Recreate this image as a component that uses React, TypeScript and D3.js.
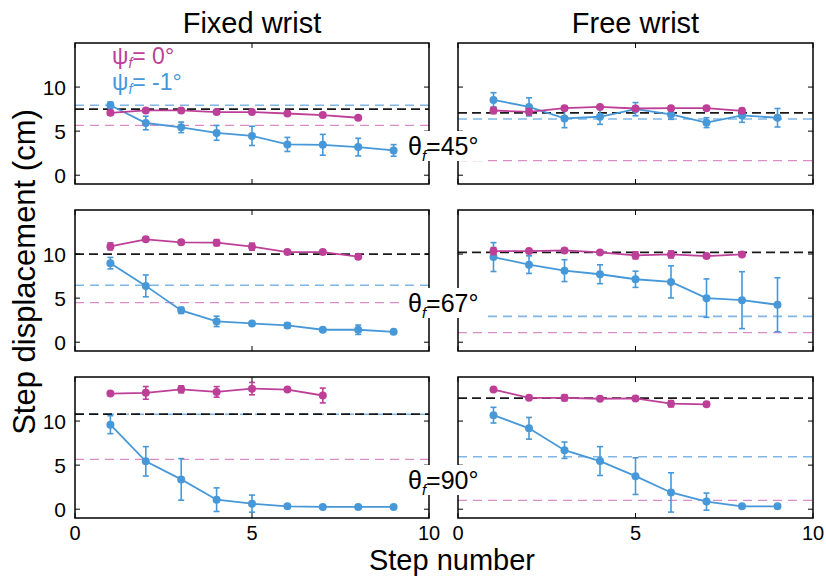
import React from "react";
import * as d3 from "d3";

const stepNumbers = [1, 2, 3, 4, 5, 6, 7, 8, 9];
const xTicks = [0, 5, 10];
const yTicks = [0, 5, 10];
const wristTitles = ["Fixed wrist", "Free wrist"];
const thetaLabels = ["45°", "67°", "90°"];
const legendLabels = ["= 0°", "= -1°"];

// Fixed wrist, theta 45
const fixed45Psi0 = [7.08, 7.35, 7.35, 7.16, 7.16, 7.0, 6.82, 6.52];
const fixed45Psi0Err = [0.25, 0.2, 0.2, 0.2, 0.2, 0.2, 0.2, 0.2];
const fixed45PsiM1 = [7.94, 5.92, 5.43, 4.8, 4.46, 3.49, 3.45, 3.19, 2.81];
const fixed45PsiM1Err = [0.37, 0.77, 0.6, 0.84, 1.09, 0.8, 1.18, 1.0, 0.66];
const fixed45Refs = [7.5, 7.94, 5.66]; // black, blue, magenta

// Free wrist, theta 45
const free45Psi0 = [7.34, 7.19, 7.6, 7.75, 7.57, 7.6, 7.6, 7.3];
const free45Psi0Err = [0.35, 0.35, 0.2, 0.2, 0.2, 0.2, 0.2, 0.2];
const free45PsiM1 = [8.54, 7.75, 6.44, 6.63, 7.49, 6.89, 5.96, 6.78, 6.52];
const free45PsiM1Err = [0.82, 1.03, 1.05, 0.86, 0.75, 0.55, 0.56, 0.78, 1.05];
const free45Refs = [7.08, 6.37, 1.65];

// Fixed wrist, theta 67
const fixed67Psi0 = [10.87, 11.67, 11.33, 11.29, 10.84, 10.23, 10.23, 9.7];
const fixed67Psi0Err = [0.4, 0.2, 0.2, 0.35, 0.4, 0.2, 0.2, 0.2];
const fixed67PsiM1 = [8.97, 6.39, 3.61, 2.36, 2.13, 1.9, 1.41, 1.41, 1.18];
const fixed67PsiM1Err = [0.65, 1.24, 0.35, 0.59, 0.2, 0.3, 0.15, 0.53, 0.1];
const fixed67Refs = [10.0, 6.46, 4.49];

// Free wrist, theta 67
const free67Psi0 = [10.34, 10.34, 10.41, 10.19, 9.85, 9.96, 9.77, 9.96];
const free67Psi0Err = [0.4, 0.2, 0.2, 0.2, 0.4, 0.4, 0.2, 0.2];
const free67PsiM1 = [9.66, 8.8, 8.12, 7.71, 7.14, 6.84, 5.0, 4.77, 4.25];
const free67PsiM1Err = [1.64, 1.0, 1.24, 1.07, 0.92, 1.82, 2.18, 3.23, 3.06];
const free67Refs = [10.19, 2.93, 1.09];

// Fixed wrist, theta 90
const fixed90Psi0 = [13.12, 13.2, 13.6, 13.31, 13.68, 13.57, 12.9];
const fixed90Psi0Err = [0.15, 0.72, 0.4, 0.6, 0.7, 0.15, 0.84];
const fixed90PsiM1 = [9.59, 5.43, 3.38, 1.08, 0.63, 0.33, 0.26, 0.26, 0.26];
const fixed90PsiM1Err = [1.02, 1.67, 2.36, 1.34, 0.97, 0.1, 0.05, 0.05, 0.05];
const fixed90Refs = [10.78, 10.78, 5.65];

// Free wrist, theta 90
const free90Psi0 = [13.57, 12.64, 12.64, 12.53, 12.57, 11.97, 11.9];
const free90Psi0Err = [0.1, 0.2, 0.35, 0.2, 0.2, 0.35, 0.2];
const free90PsiM1 = [10.67, 9.18, 6.69, 5.46, 3.75, 1.9, 0.86, 0.33, 0.33];
const free90PsiM1Err = [0.89, 1.23, 0.93, 1.64, 2.08, 2.23, 0.97, 0.2, 0.1];
const free90Refs = [12.6, 5.95, 1.0];

const MAGENTA = "#BD3F98";
const BLUE = "#4798D8";
const MAGENTA_LIGHT = "#D98CC5";
const BLUE_LIGHT = "#7FB6E6";
const FONT = "'Liberation Sans', Arial, Helvetica, sans-serif";

const panels = [
  [
    { p0: fixed45Psi0, e0: fixed45Psi0Err, p1: fixed45PsiM1, e1: fixed45PsiM1Err, refs: fixed45Refs },
    { p0: free45Psi0, e0: free45Psi0Err, p1: free45PsiM1, e1: free45PsiM1Err, refs: free45Refs },
  ],
  [
    { p0: fixed67Psi0, e0: fixed67Psi0Err, p1: fixed67PsiM1, e1: fixed67PsiM1Err, refs: fixed67Refs },
    { p0: free67Psi0, e0: free67Psi0Err, p1: free67PsiM1, e1: free67PsiM1Err, refs: free67Refs },
  ],
  [
    { p0: fixed90Psi0, e0: fixed90Psi0Err, p1: fixed90PsiM1, e1: fixed90PsiM1Err, refs: fixed90Refs },
    { p0: free90Psi0, e0: free90Psi0Err, p1: free90PsiM1, e1: free90PsiM1Err, refs: free90Refs },
  ],
];

const colX = [
  [75, 429],
  [458, 813],
];
const rowTop = [43, 210, 377];
const panelH = 141;
const thetaBaseline = [155, 312, 489];

function Series({ vals, errs, color, x, y }) {
  const pts = vals.map((v, i) => [stepNumbers[i], v] as [number, number]);
  const line = d3
    .line<[number, number]>()
    .x((d) => x(d[0]))
    .y((d) => y(d[1]));
  return (
    <g>
      <path d={line(pts) || ""} fill="none" stroke={color} strokeWidth={1.8} />
      {pts.map(([s, v], i) => {
        const cx = x(s);
        const top = y(v + errs[i]);
        const bot = y(v - errs[i]);
        return (
          <g key={i} stroke={color} strokeWidth={1.6}>
            <line x1={cx} x2={cx} y1={top} y2={bot} />
            <line x1={cx - 3} x2={cx + 3} y1={top} y2={top} />
            <line x1={cx - 3} x2={cx + 3} y1={bot} y2={bot} />
          </g>
        );
      })}
      {pts.map(([s, v], i) => (
        <circle key={"c" + i} cx={x(s)} cy={y(v)} r={4} fill={color} />
      ))}
    </g>
  );
}

function Panel({ row, col, data }) {
  const [x0, x1] = colX[col];
  const top = rowTop[row];
  const x = d3.scaleLinear().domain([0, 10]).range([x0, x1]);
  const y = d3.scaleLinear().domain([-1, 15]).range([top + panelH, top]);
  const [refBlack, refBlue, refMag] = data.refs;
  const tick = 5;
  return (
    <g>
      <line x1={x0} x2={x1} y1={y(refMag)} y2={y(refMag)} stroke={MAGENTA_LIGHT} strokeWidth={1.3} strokeDasharray="9,6" />
      <line x1={x0} x2={x1} y1={y(refBlue)} y2={y(refBlue)} stroke={BLUE_LIGHT} strokeWidth={1.6} strokeDasharray="9,6" />
      <line x1={x0} x2={x1} y1={y(refBlack)} y2={y(refBlack)} stroke="#000" strokeOpacity={0.9} strokeWidth={1.8} strokeDasharray="9,5" />
      <Series vals={data.p1} errs={data.e1} color={BLUE} x={x} y={y} />
      <Series vals={data.p0} errs={data.e0} color={MAGENTA} x={x} y={y} />
      <rect x={x0} y={top} width={x1 - x0} height={panelH} fill="none" stroke="#000" strokeWidth={1.5} />
      {yTicks.map((t) => (
        <g key={"y" + t} stroke="#000" strokeWidth={1}>
          <line x1={x0} x2={x0 + tick} y1={y(t)} y2={y(t)} />
          <line x1={x1} x2={x1 - tick} y1={y(t)} y2={y(t)} />
        </g>
      ))}
      {xTicks.map((t) => (
        <g key={"x" + t} stroke="#000" strokeWidth={1}>
          <line x1={x(t)} x2={x(t)} y1={top} y2={top + tick} />
          <line x1={x(t)} x2={x(t)} y1={top + panelH} y2={top + panelH - tick} />
        </g>
      ))}
      {col === 0 &&
        yTicks.map((t) => (
          <text key={"yl" + t} x={x0 - 9} y={y(t) + 7.5} textAnchor="end" fontSize={21} fontFamily={FONT}>
            {t}
          </text>
        ))}
      {row === 2 &&
        xTicks.map((t) => (
          <text key={"xl" + t} x={x(t)} y={540} textAnchor="middle" fontSize={20} fontFamily={FONT}>
            {t}
          </text>
        ))}
    </g>
  );
}

export default function App() {
  return (
    <svg width={826} height={576} style={{ position: "absolute", left: 0, top: 0, background: "#fff" }}>
      <rect width={826} height={576} fill="#fff" />
      {panels.map((r, ri) => r.map((d, ci) => <Panel key={ri + "-" + ci} row={ri} col={ci} data={d} />))}
      {wristTitles.map((t, i) => (
        <text key={t} x={(colX[i][0] + colX[i][1]) / 2} y={33} textAnchor="middle" fontSize={29} fontFamily={FONT}>
          {t}
        </text>
      ))}
      <text x={452} y={570} textAnchor="middle" fontSize={29} fontFamily={FONT}>
        Step number
      </text>
      <text transform="translate(35,272) rotate(-90)" textAnchor="middle" fontSize={31} fontFamily={FONT}>
        Step displacement (cm)
      </text>
      {thetaLabels.map((t, i) => (
        <g key={t}>
          <rect x={405} y={thetaBaseline[i] - 24} width={77} height={30} fill="#fff" />
          <text x={408} y={thetaBaseline[i]} fontSize={25} fontFamily={FONT}>
            θ
            <tspan dy={6} fontSize={15} fontStyle="italic">f</tspan>
            <tspan dy={-6}>={t}</tspan>
          </text>
        </g>
      ))}
      {legendLabels.map((t, i) => (
        <text key={t} x={112} y={64 + i * 26} fontSize={23} fontFamily={FONT} fill={i === 0 ? MAGENTA : BLUE}>
          ψ
          <tspan dy={4} fontSize={14} fontStyle="italic">f</tspan>
          <tspan dy={-4}>{t}</tspan>
        </text>
      ))}
    </svg>
  );
}
